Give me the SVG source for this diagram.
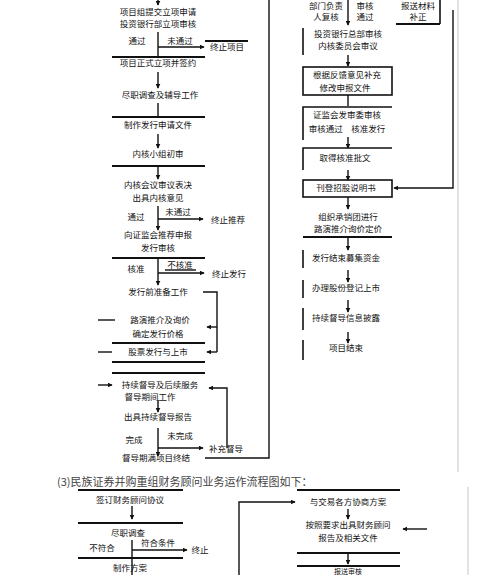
<svg xmlns="http://www.w3.org/2000/svg" width="493" height="575" viewBox="0 0 493 575">
<defs>
<marker id="ah" viewBox="0 0 8 8" refX="7" refY="4" markerWidth="5" markerHeight="5" orient="auto" markerUnits="userSpaceOnUse">
<path d="M0,0 L8,4 L0,8 z" fill="#111"/>
</marker>
<style>
.t{font-family:"Noto Sans CJK SC","Liberation Sans",sans-serif;font-size:8.5px;fill:#111;text-anchor:middle}
.s{font-size:7px}
.bar{stroke:#111;stroke-width:1.8;fill:none}
.c{stroke:#111;stroke-width:1.4;fill:none}
.box{stroke:#111;stroke-width:1.6;fill:none}
.edge{stroke:#d8d8d8;stroke-width:1.5;fill:none}
.cap{font-family:"Noto Sans CJK SC","Liberation Serif",serif;font-size:11px;fill:#444}
</style>
</defs>
<rect width="493" height="575" fill="#fff"/>
<line class="edge" x1="458" y1="0" x2="458" y2="472"/>
<line class="edge" x1="468" y1="487" x2="468" y2="575"/>

<g id="connectors">
<line class="c" x1="158" y1="0" x2="158" y2="5" marker-end="url(#ah)"/>
<line class="c" x1="158" y1="32" x2="158" y2="58"/>
<line class="c" x1="158" y1="47" x2="204" y2="47" marker-end="url(#ah)"/>
<line class="c" x1="158" y1="72" x2="158" y2="88" marker-end="url(#ah)"/>
<line class="c" x1="158" y1="103" x2="158" y2="118"/>
<line class="c" x1="158" y1="134" x2="158" y2="148" marker-end="url(#ah)"/>
<line class="c" x1="158" y1="166" x2="158" y2="179" marker-end="url(#ah)"/>
<line class="c" x1="158" y1="206" x2="158" y2="230" marker-end="url(#ah)"/>
<line class="c" x1="158" y1="219" x2="203" y2="219" marker-end="url(#ah)"/>
<line class="c" x1="158" y1="258" x2="158" y2="285" marker-end="url(#ah)"/>
<line class="c" x1="158" y1="273" x2="204" y2="273" marker-end="url(#ah)"/>
<polyline class="c" points="203,292 217,292 217,352"/>
<line class="c" x1="217" y1="327" x2="207" y2="327" marker-end="url(#ah)"/>
<line class="c" x1="217" y1="352" x2="207" y2="352" marker-end="url(#ah)"/>
<line class="c" x1="98" y1="320" x2="115" y2="320"/>
<line class="c" x1="98" y1="352" x2="112" y2="352"/>
<line class="c" x1="98" y1="385" x2="112" y2="385" marker-end="url(#ah)"/>
<line class="c" x1="158" y1="400" x2="158" y2="412" marker-end="url(#ah)"/>
<line class="c" x1="158" y1="428" x2="158" y2="456" marker-end="url(#ah)"/>
<line class="c" x1="158" y1="448" x2="203" y2="448" marker-end="url(#ah)"/>
<polyline class="c" points="227,448 227,388 209,388" marker-end="url(#ah)"/>
<polyline class="c" points="205,458 269,458 269,0"/>
<line class="c" x1="348" y1="0" x2="348" y2="25" marker-end="url(#ah)"/>
<line class="c" x1="348" y1="55" x2="348" y2="66" marker-end="url(#ah)"/>
<line class="c" x1="348" y1="95" x2="348" y2="106"/>
<line class="c" x1="348" y1="137" x2="348" y2="148" marker-end="url(#ah)"/>
<line class="c" x1="348" y1="170" x2="348" y2="180" marker-end="url(#ah)"/>
<polyline class="c" points="453,10 453,188 394,188" marker-end="url(#ah)"/>
<line class="c" x1="348" y1="197" x2="348" y2="209" marker-end="url(#ah)"/>
<line class="c" x1="348" y1="237" x2="348" y2="250" marker-end="url(#ah)"/>
<line class="c" x1="348" y1="270" x2="348" y2="282" marker-end="url(#ah)"/>
<line class="c" x1="348" y1="300" x2="348" y2="312" marker-end="url(#ah)"/>
<line class="c" x1="348" y1="332" x2="348" y2="343" marker-end="url(#ah)"/>
<line class="c" x1="132" y1="506" x2="132" y2="519" marker-end="url(#ah)"/>
<line class="c" x1="132" y1="540" x2="132" y2="575"/>
<line class="c" x1="132" y1="550" x2="187" y2="550" marker-end="url(#ah)"/>
<polyline class="c" points="239,575 239,502 295,502" marker-end="url(#ah)"/>
<line class="c" x1="348" y1="509" x2="348" y2="519" marker-end="url(#ah)"/>
<line class="c" x1="427" y1="529" x2="403" y2="529" marker-end="url(#ah)"/>
<line class="c" x1="348" y1="553" x2="348" y2="564" marker-end="url(#ah)"/>
</g>

<g id="n1"><text class="t" x="158" y="15">项目组提交立项申请</text><text class="t" x="158" y="27">投资银行部立项审核</text></g>
<g id="b1"><text class="t" x="137" y="44">通过</text><text class="t" x="180" y="44">未通过</text></g>
<g id="n1x"><line class="bar" x1="205" y1="41" x2="248" y2="41"/><text class="t" x="227" y="50">终止项目</text></g>
<g id="n2"><line class="bar" x1="112" y1="57" x2="205" y2="57"/><text class="t" x="158" y="66">项目正式立项并签约</text></g>
<g id="n3"><text class="t" x="160" y="98">尽职调查及辅导工作</text><line class="bar" x1="112" y1="117" x2="205" y2="117"/></g>
<g id="n4"><text class="t" x="158" y="128">制作发行申请文件</text></g>
<g id="n5"><text class="t" x="158" y="157">内核小组初审</text><line class="bar" x1="112" y1="166" x2="205" y2="166"/></g>
<g id="n6"><text class="t" x="158" y="188">内核会议审议表决</text><text class="t" x="158" y="201">出具内核意见</text></g>
<g id="b2"><text class="t" x="136" y="220">通过</text><text class="t" x="178" y="215">未通过</text><text class="t" x="228" y="223">终止推荐</text></g>
<g id="n7"><text class="t" x="158" y="238">向证监会推荐申报</text><text class="t" x="158" y="251">发行审核</text><line class="bar" x1="112" y1="258" x2="205" y2="258"/></g>
<g id="b3"><text class="t" x="136" y="272">核准</text><text class="t" x="180" y="268">不核准</text><line class="c" x1="165" y1="270" x2="196" y2="270"/><text class="t" x="229" y="277">终止发行</text></g>
<g id="n8"><text class="t" x="158" y="295">发行前准备工作</text></g>
<g id="n9"><text class="t" x="160" y="323">路演推介及询价</text><text class="t" x="158" y="337">确定发行价格</text><line class="bar" x1="112" y1="343" x2="205" y2="343"/></g>
<g id="n10"><text class="t" x="158" y="355">股票发行与上市</text></g>
<g id="n11"><line class="bar" x1="112" y1="362" x2="205" y2="362"/><line class="bar" x1="112" y1="373" x2="205" y2="373"/><text class="t" x="160" y="388">持续督导及后续服务</text><text class="t" x="150" y="400">督导期间工作</text></g>
<g id="n12"><text class="t" x="158" y="420">出具持续督导报告</text></g>
<g id="b4"><text class="t" x="134" y="443">完成</text><text class="t" x="180" y="439">未完成</text><text class="t" x="226" y="452">补充督导</text></g>
<g id="n13"><text class="t" x="156" y="461">督导期满项目终结</text></g>

<g id="r0"><text class="t" x="326" y="9">部门负责</text><text class="t" x="326" y="20">人复核</text><text class="t" x="365" y="9">审核</text><text class="t" x="365" y="20">通过</text></g>
<g id="rtop"><text class="t" x="418" y="9">报送材料</text><text class="t" x="418" y="20">补正</text><line class="bar" x1="396" y1="24" x2="440" y2="24"/><line class="box" x1="440" y1="0" x2="440" y2="24"/></g>
<g id="r1"><line class="box" x1="303" y1="28" x2="303" y2="55"/><text class="t" x="348" y="37">投资银行总部审核</text><text class="t" x="348" y="49">内核委员会审议</text></g>
<g id="r2"><rect class="box" x="303" y="67" width="89" height="28"/><text class="t" x="347" y="78">根据反馈意见补充</text><text class="t" x="345" y="91">修改申报文件</text></g>
<g id="r3"><polyline class="box" points="392,107 303,107 303,140"/><text class="t" x="347" y="118">证监会发审委审核</text><text class="t" x="347" y="132">审核通过　核准发行</text></g>
<g id="r4"><polyline class="box" points="392,148 303,148 303,170"/><text class="t" x="345" y="161">取得核准批文</text></g>
<g id="r5"><rect class="box" x="303" y="180" width="89" height="17"/><text class="t" x="346" y="191">刊登招股说明书</text></g>
<g id="r6"><text class="t" x="348" y="220">组织承销团进行</text><text class="t" x="348" y="232">路演推介询价定价</text><line class="bar" x1="303" y1="237" x2="392" y2="237"/></g>
<g id="r7"><line class="box" x1="303" y1="250" x2="303" y2="268"/><text class="t" x="346" y="261">发行结束募集资金</text></g>
<g id="r8"><line class="box" x1="303" y1="280" x2="303" y2="298"/><text class="t" x="346" y="291">办理股份登记上市</text></g>
<g id="r9"><line class="box" x1="303" y1="308" x2="303" y2="330"/><text class="t" x="346" y="321">持续督导信息披露</text></g>
<g id="r10"><line class="box" x1="303" y1="340" x2="303" y2="360"/><text class="t" x="346" y="351">项目结束</text></g>

<g id="caption"><text class="cap" x="57" y="486">(3)民族证券并购重组财务顾问业务运作流程图如下：</text></g>

<g id="bl1"><line class="bar" x1="78" y1="490" x2="183" y2="490"/><text class="t" x="130" y="503">签订财务顾问协议</text></g>
<g id="bl2"><line class="bar" x1="78" y1="523" x2="183" y2="523"/><text class="t" x="128" y="536">尽职调查</text></g>
<g id="bb1"><text class="t" x="102" y="551">不符合</text><text class="t" x="158" y="546">符合条件</text><text class="t" x="200" y="553">终止</text></g>
<g id="bl3"><line class="bar" x1="78" y1="558" x2="183" y2="558"/><text class="t" x="130" y="571">制作方案</text></g>
<g id="br1"><line class="bar" x1="297" y1="490" x2="400" y2="490"/><text class="t" x="348" y="505">与交易各方协商方案</text></g>
<g id="br2"><text class="t" x="348" y="528">按照要求出具财务顾问</text><text class="t" x="348" y="541">报告及相关文件</text><line class="bar" x1="297" y1="553" x2="400" y2="553"/></g>
<g id="br3"><line class="bar" x1="297" y1="566" x2="400" y2="566"/><text class="t s" x="348" y="574">报送审核</text></g>
</svg>
